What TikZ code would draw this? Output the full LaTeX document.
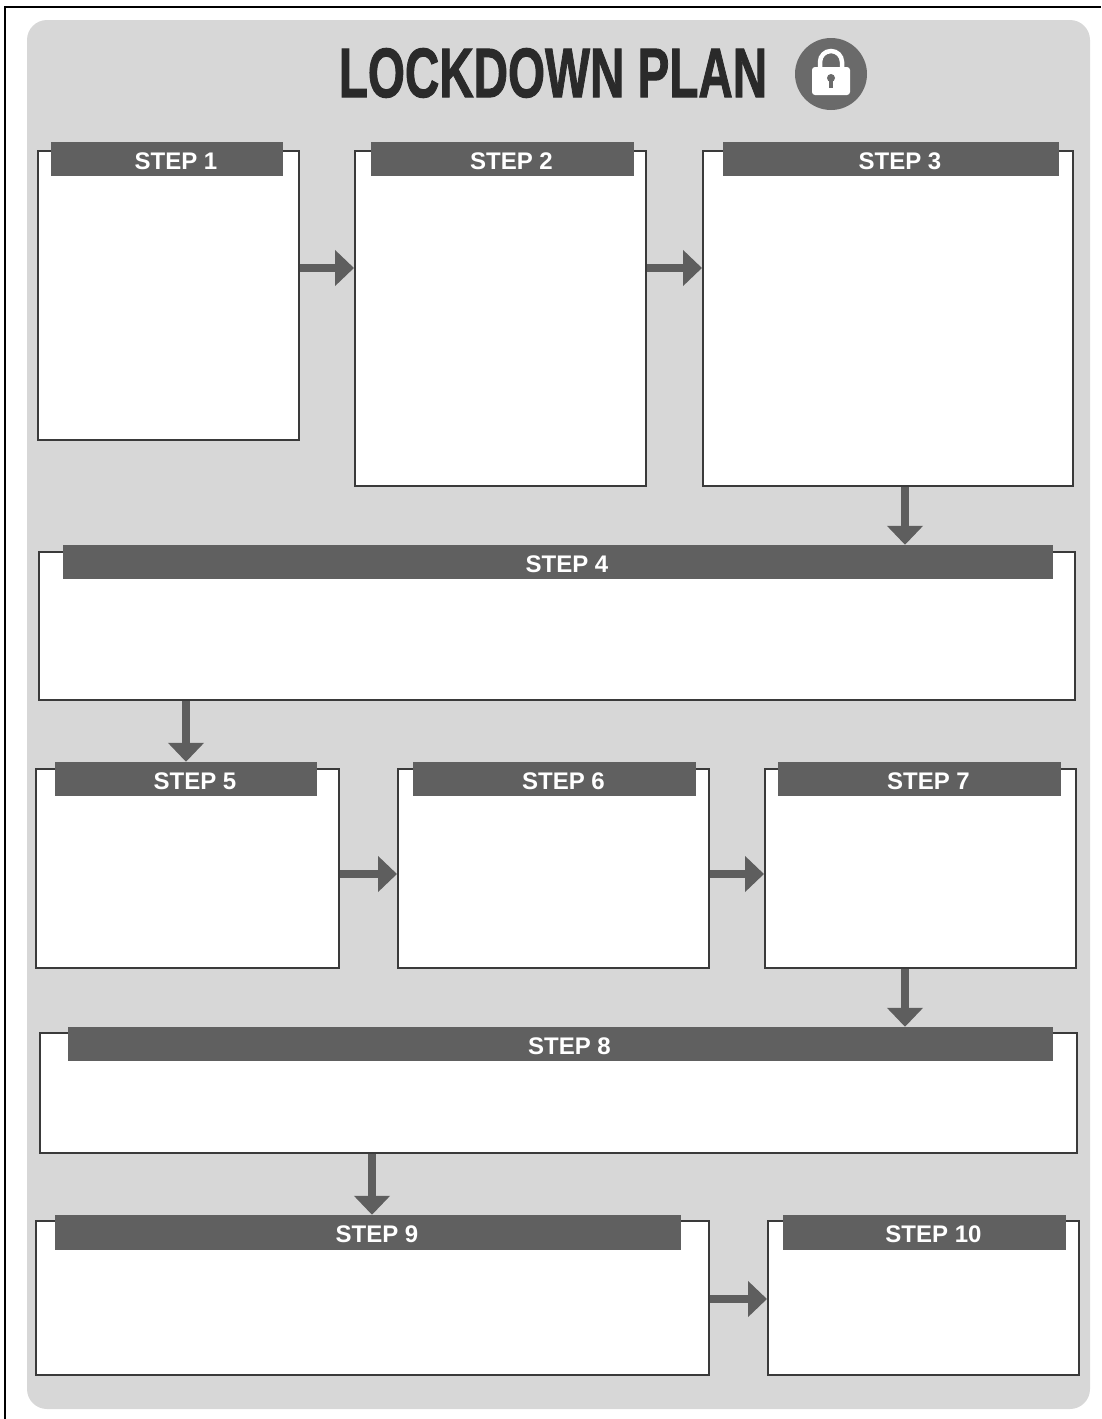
\documentclass[tikz,border=0pt]{standalone}
\usepackage{fontspec}
\setmainfont{Liberation Sans}
\newfontfamily\titlefont{Liberation Sans}[BoldFeatures={FakeBold=1.6}]
\usetikzlibrary{fit,arrows.meta}

\definecolor{panelgray}{HTML}{D7D7D7}
\definecolor{headgray}{HTML}{606060}
\definecolor{arrowgray}{HTML}{5E5E5E}
\definecolor{edgegray}{HTML}{3A3A3A}
\definecolor{titlegray}{HTML}{2A2A2A}
\definecolor{lockgray}{HTML}{6A6A6A}

\tikzset{
    stepbox/.style={draw=edgegray, line width=2pt, fill=white, inner sep=0pt},
    stephead/.style={fill=headgray, inner sep=0pt},
    steptext/.style={text=white, font=\fontsize{24}{24}\selectfont\bfseries, inner sep=0pt, xshift=9pt, yshift=-2pt},
    flow/.style={draw=arrowgray, line width=8pt, -{Triangle[width=35pt,length=19pt]}}
}

\begin{document}
\begin{tikzpicture}[x=1pt, y=-1pt]

        \useasboundingbox (0,0) rectangle (1101,1419);

        % frame and panel
        \draw[line width=2pt] (5,1419) -- (5,7) -- (1101,7);
        \fill[panelgray, rounded corners=20pt] (27,20) rectangle (1090,1409);

        % title
        \node[text=titlegray, font=\fontsize{70}{70}\titlefont\bfseries, inner sep=0pt] (title) at (553,73) {\scalebox{0.68}[1]{LOCKDOWN PLAN}};

        % lock
        \fill[lockgray] (831,74) circle(36);
        \draw[white, line width=4.5pt] (820,68) -- (820,62) arc[start angle=180, end angle=360, radius=11] -- (842,68);
        \fill[white, rounded corners=3pt] (812,67) rectangle (850,95);
        \fill[lockgray] (831,78) circle(4);
        \fill[lockgray] (829,78) rectangle (833,88);

        % boxes
        \node[stepbox, fit={(38,151) (299,440)}] (s1) {};
        \node[stepbox, fit={(355,151) (646,486)}] (s2) {};
        \node[stepbox, fit={(703,151) (1073,486)}] (s3) {};
        \node[stepbox, fit={(39,552) (1075,700)}] (s4) {};
        \node[stepbox, fit={(36,769) (339,968)}] (s5) {};
        \node[stepbox, fit={(398,769) (709,968)}] (s6) {};
        \node[stepbox, fit={(765,769) (1076,968)}] (s7) {};
        \node[stepbox, fit={(40,1033) (1077,1153)}] (s8) {};
        \node[stepbox, fit={(36,1221) (709,1375)}] (s9) {};
        \node[stepbox, fit={(768,1221) (1079,1375)}] (s10) {};

        % headers
        \node[stephead, fit={(51,142) (283,176)}, label={[steptext]center:STEP 1}] (h1) {};
        \node[stephead, fit={(371,142) (634,176)}, label={[steptext]center:STEP 2}] (h2) {};
        \node[stephead, fit={(723,142) (1059,176)}, label={[steptext]center:STEP 3}] (h3) {};
        \node[stephead, fit={(63,545) (1053,579)}, label={[steptext]center:STEP 4}] (h4) {};
        \node[stephead, fit={(55,762) (317,796)}, label={[steptext]center:STEP 5}] (h5) {};
        \node[stephead, fit={(413,762) (696,796)}, label={[steptext]center:STEP 6}] (h6) {};
        \node[stephead, fit={(778,762) (1061,796)}, label={[steptext]center:STEP 7}] (h7) {};
        \node[stephead, fit={(68,1027) (1053,1061)}, label={[steptext]center:STEP 8}] (h8) {};
        \node[stephead, fit={(55,1215) (681,1250)}, label={[steptext]center:STEP 9}] (h9) {};
        \node[stephead, fit={(783,1215) (1066,1250)}, label={[steptext]center:STEP 10}] (h10) {};

        % arrow lines
        \coordinate (r1) at (0,268);
        \coordinate (r2) at (0,874);
        \coordinate (r3) at (0,1299);
        \coordinate (c1) at (905,0);
        \coordinate (c2) at (186,0);
        \coordinate (c3) at (372,0);

        \draw[flow] (s1.east |- r1) -- (s2.west |- r1);
        \draw[flow] (s2.east |- r1) -- (s3.west |- r1);
        \draw[flow] (s3.south -| c1) -- (h4.north -| c1);
        \draw[flow] (s4.south -| c2) -- (h5.north -| c2);
        \draw[flow] (s5.east |- r2) -- (s6.west |- r2);
        \draw[flow] (s6.east |- r2) -- (s7.west |- r2);
        \draw[flow] (s7.south -| c1) -- (h8.north -| c1);
        \draw[flow] (s8.south -| c3) -- (h9.north -| c3);
        \draw[flow] (s9.east |- r3) -- (s10.west |- r3);

    \end{tikzpicture}
\end{document}
